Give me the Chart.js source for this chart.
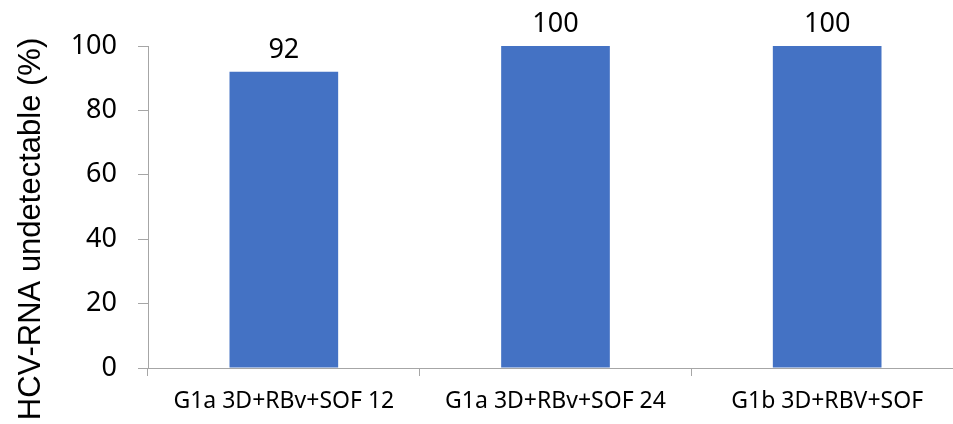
<!DOCTYPE html>
<html>
<head>
<meta charset="utf-8">
<script src="https://cdn.jsdelivr.net/npm/chart.js@4/dist/chart.umd.min.js"></script>
<style>
  html, body { margin: 0; padding: 0; background: #fff; overflow: hidden; }
  #wrap { position: relative; width: 963px; height: 424px; }
</style>
</head>
<body>
<div id="wrap"><canvas id="c" width="963" height="424"></canvas></div>
<script>
const categories = ["G1a 3D+RBv+SOF 12", "G1a 3D+RBv+SOF 24", "G1b 3D+RBV+SOF"];
const values = [92, 100, 100];
const yTicks = [0, 20, 40, 60, 80, 100];
const yTitle = "HCV-RNA undetectable (%)";

const axisColor = "#a6a6a6";

const labelPlugin = {
  id: "valueLabels",
  afterDatasetsDraw(chart) {
    const ctx = chart.ctx;
    const meta = chart.getDatasetMeta(0);
    ctx.save();
    ctx.font = "27px 'Noto Sans'";
    ctx.fillStyle = "#000";
    ctx.textAlign = "center";
    ctx.textBaseline = "alphabetic";
    meta.data.forEach((bar, i) => {
      ctx.fillText(String(values[i]), bar.x, bar.y - 14);
    });
    ctx.restore();
  }
};

const titlePlugin = {
  id: "yTitle",
  afterDraw(chart) {
    const ctx = chart.ctx;
    ctx.save();
    ctx.translate(40, 229);
    ctx.rotate(-Math.PI / 2);
    ctx.font = "31px 'Liberation Sans'";
    ctx.fillStyle = "#000";
    ctx.textAlign = "center";
    ctx.textBaseline = "alphabetic";
    ctx.fillText(yTitle, 0, 0);
    ctx.restore();
  }
};

new Chart(document.getElementById("c"), {
  type: "bar",
  data: {
    labels: categories,
    datasets: [{
      data: values,
      backgroundColor: "#4472C4",
      borderWidth: 0,
      barPercentage: 1,
      categoryPercentage: 0.4
    }]
  },
  options: {
    responsive: false,
    animation: false,
    devicePixelRatio: 1,
    layout: { padding: { top: 46, right: 0, bottom: 0, left: 0 } },
    plugins: {
      legend: { display: false },
      tooltip: { enabled: false },
      title: { display: false }
    },
    scales: {
      x: {
        offset: true,
        grid: {
          display: true,
          drawOnChartArea: false,
          drawTicks: true,
          tickLength: 8,
          color: axisColor,
          offset: true
        },
        border: { display: true, color: axisColor, width: 1 },
        ticks: {
          color: "#000",
          font: { family: "'Noto Sans'", size: 23 },
          padding: 12,
          maxRotation: 0,
          autoSkip: false
        },
        afterFit(scale) { scale.height = 56; }
      },
      y: {
        min: 0,
        max: 100,
        afterBuildTicks(scale) { scale.ticks = yTicks.map(v => ({ value: v })); },
        grid: {
          display: true,
          drawOnChartArea: false,
          drawTicks: true,
          tickLength: 10,
          color: axisColor
        },
        border: { display: true, color: axisColor, width: 1 },
        ticks: {
          color: "#000",
          font: { family: "'Noto Sans'", size: 27 },
          padding: 21
        },
        afterFit(scale) { scale.width = 148; }
      }
    }
  },
  plugins: [labelPlugin, titlePlugin]
});
</script>
</body>
</html>
